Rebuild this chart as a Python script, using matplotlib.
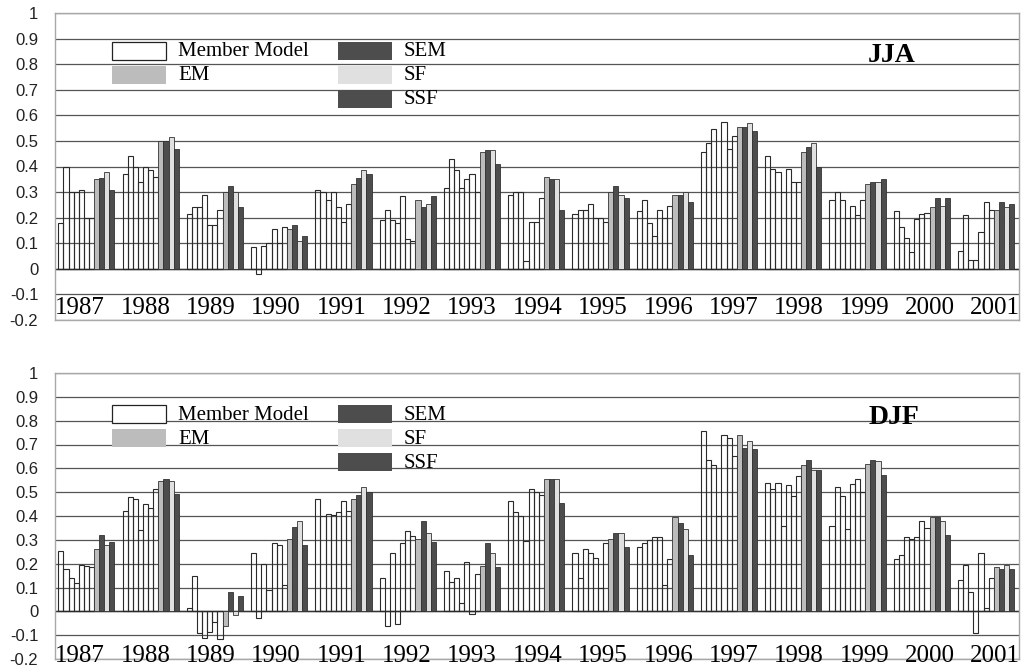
import matplotlib
matplotlib.use("Agg")
import matplotlib.pyplot as plt
import matplotlib.transforms as mtransforms
from matplotlib.patches import Rectangle
import numpy as np

years = [str(y) for y in range(1987, 2002)]

# seven member models per year, then the four combined forecasts
jja_members = [
    [0.18, 0.40, 0.30, 0.30, 0.31, 0.20, 0.20],
    [0.37, 0.44, 0.40, 0.34, 0.40, 0.385, 0.36],
    [0.215, 0.24, 0.24, 0.29, 0.17, 0.17, 0.23],
    [0.087, -0.02, 0.09, 0.10, 0.155, 0.10, 0.163],
    [0.31, 0.30, 0.27, 0.30, 0.24, 0.185, 0.255],
    [0.19, 0.23, 0.19, 0.18, 0.285, 0.115, 0.107],
    [0.315, 0.43, 0.385, 0.315, 0.35, 0.37, 0.30],
    [0.29, 0.30, 0.30, 0.03, 0.185, 0.185, 0.275],
    [0.215, 0.23, 0.23, 0.255, 0.20, 0.20, 0.185],
    [0.225, 0.27, 0.18, 0.13, 0.23, 0.20, 0.245],
    [0.455, 0.49, 0.545, 0.10, 0.575, 0.47, 0.52],
    [0.44, 0.39, 0.38, 0.30, 0.39, 0.34, 0.34],
    [0.27, 0.30, 0.27, 0.20, 0.245, 0.21, 0.27],
    [0.225, 0.165, 0.12, 0.065, 0.195, 0.215, 0.22],
    [0.07, 0.21, 0.035, 0.035, 0.145, 0.26, 0.23],
]
jja_em = [0.35, 0.50, 0.30, 0.155, 0.33, 0.27, 0.455, 0.36, 0.30, 0.29, 0.555, 0.455, 0.33, 0.24, 0.23]
jja_sem = [0.355, 0.50, 0.325, 0.17, 0.355, 0.24, 0.465, 0.35, 0.325, 0.29, 0.555, 0.475, 0.34, 0.275, 0.26]
jja_sf = [0.38, 0.515, 0.30, 0.107, 0.385, 0.255, 0.465, 0.35, 0.29, 0.30, 0.57, 0.49, 0.34, 0.245, 0.24]
jja_ssf = [0.31, 0.47, 0.24, 0.13, 0.37, 0.285, 0.41, 0.23, 0.275, 0.26, 0.54, 0.40, 0.35, 0.275, 0.255]

djf_members = [
    [0.253, 0.178, 0.14, 0.12, 0.194, 0.19, 0.185],
    [0.42, 0.48, 0.473, 0.34, 0.45, 0.435, 0.515],
    [0.014, 0.15, -0.09, -0.11, -0.087, -0.046, -0.117],
    [0.245, -0.03, 0.20, 0.09, 0.285, 0.278, 0.11],
    [0.473, 0.40, 0.41, 0.404, 0.418, 0.463, 0.42],
    [0.14, -0.06, 0.245, -0.055, 0.285, 0.337, 0.316],
    [0.168, 0.125, 0.14, 0.035, 0.205, -0.01, 0.158],
    [0.463, 0.418, 0.40, 0.295, 0.515, 0.502, 0.49],
    [0.245, 0.14, 0.26, 0.245, 0.225, 0.10, 0.285],
    [0.27, 0.285, 0.30, 0.31, 0.31, 0.11, 0.22],
    [0.757, 0.636, 0.615, 0.40, 0.741, 0.726, 0.65],
    [0.538, 0.515, 0.538, 0.36, 0.53, 0.484, 0.568],
    [0.36, 0.523, 0.484, 0.345, 0.533, 0.555, 0.502],
    [0.218, 0.237, 0.313, 0.305, 0.313, 0.38, 0.35],
    [0.133, 0.194, 0.08, -0.09, 0.245, 0.014, 0.14],
]
djf_em = [0.26, 0.546, -0.06, 0.305, 0.473, 0.305, 0.19, 0.555, 0.305, 0.397, 0.741, 0.615, 0.62, 0.395, 0.185]
djf_sem = [0.32, 0.555, 0.08, 0.352, 0.487, 0.38, 0.285, 0.555, 0.327, 0.37, 0.686, 0.636, 0.637, 0.395, 0.178]
djf_sf = [0.28, 0.546, -0.015, 0.38, 0.523, 0.33, 0.245, 0.555, 0.327, 0.345, 0.716, 0.594, 0.63, 0.38, 0.194]
djf_ssf = [0.29, 0.494, 0.066, 0.278, 0.502, 0.29, 0.185, 0.456, 0.27, 0.237, 0.68, 0.594, 0.57, 0.32, 0.178]

yticks = np.round(np.arange(-0.2, 1.01, 0.1), 1)
ytick_labels = ["-0.2", "-0.1", "0", "0.1", "0.2", "0.3", "0.4", "0.5",
                "0.6", "0.7", "0.8", "0.9", "1"]

C_EM, C_SEM, C_SF, C_SSF = "#bcbcbc", "#4d4d4d", "#e0e0e0", "#4d4d4d"
SERIF = "Liberation Serif"
SANS = "Liberation Sans"

W, H = 1021, 670
fig = plt.figure(figsize=(W / 100, H / 100), dpi=100)


def fig_rect(x0, y0, x1, y1):
    return [x0 / W, 1 - y1 / H, (x1 - x0) / W, (y1 - y0) / H]


def draw_panel(ax, members, em, sem, sf, ssf, label_y):
    slot = 0.0795
    start = 0.0513
    n_mem = len(members[0])
    for i in range(len(years)):
        xs = i + start + slot * (np.arange(n_mem + 4) + 0.5)
        ax.bar(xs[:n_mem], members[i], width=slot, facecolor="none",
               edgecolor="#2a2a2a", linewidth=0.8, zorder=2)
        for x, v, c in zip(xs[n_mem:], [em[i], sem[i], sf[i], ssf[i]],
                           [C_EM, C_SEM, C_SF, C_SSF]):
            ax.bar(x, v, width=slot, color=c, edgecolor="#333333",
                   linewidth=0.6, zorder=3)

    ax.set_xlim(0, len(years))
    ax.set_ylim(-0.2, 1.0)
    ax.set_yticks(yticks)
    ax.set_yticklabels(ytick_labels, fontfamily=SANS, fontsize=12, color="#222222")
    ax.set_xticks([])
    ax.tick_params(axis="y", length=0, pad=12)
    ax.grid(axis="y", color="#555555", linewidth=0.9)
    ax.set_axisbelow(True)
    ax.axhline(0, color="#333333", linewidth=1.0, zorder=1)
    for s in ax.spines.values():
        s.set_color("#a8a8a8")
        s.set_linewidth(1.0)

    # year labels sit in the band below the -0.1 line
    trans = mtransforms.blended_transform_factory(ax.transAxes, ax.transData)
    for i, y in enumerate(years):
        ax.text(0.026 + 0.0678 * i, label_y, y, transform=trans,
                ha="center", va="center", fontfamily=SERIF, fontsize=18)


def draw_legend(row_y, title_xy, title):
    items = [
        (112, 0, "white", "#222222", "Member Model"),
        (112, 1, C_EM, "none", "EM"),
        (338, 0, C_SEM, "none", "SEM"),
        (338, 1, C_SF, "none", "SF"),
        (338, 2, C_SSF, "none", "SSF"),
    ]
    for x0, row, face, edge, text in items:
        yc = row_y + 24 * row
        r = fig_rect(x0, yc - 9, x0 + 54, yc + 9)
        fig.patches.append(Rectangle((r[0], r[1]), r[2], r[3], transform=fig.transFigure,
                                     facecolor=face, edgecolor=edge, linewidth=0.9, zorder=5))
        fig.text((x0 + 66) / W, 1 - (yc + 1) / H, text, ha="left", va="center",
                 fontfamily=SERIF, fontsize=15, zorder=6)
    fig.text(title_xy[0] / W, 1 - title_xy[1] / H, title, ha="center", va="center",
             fontfamily=SERIF, fontsize=20, fontweight="bold", zorder=6)


ax_top = fig.add_axes(fig_rect(55, 13, 1019, 320))
ax_bot = fig.add_axes(fig_rect(55, 373, 1019, 659))

draw_panel(ax_top, jja_members, jja_em, jja_sem, jja_sf, jja_ssf, -0.152)
draw_panel(ax_bot, djf_members, djf_em, djf_sem, djf_sf, djf_ssf, -0.186)

draw_legend(51, (892, 56), "JJA")
draw_legend(414, (894, 417), "DJF")

fig.savefig("out.png", dpi=100)
